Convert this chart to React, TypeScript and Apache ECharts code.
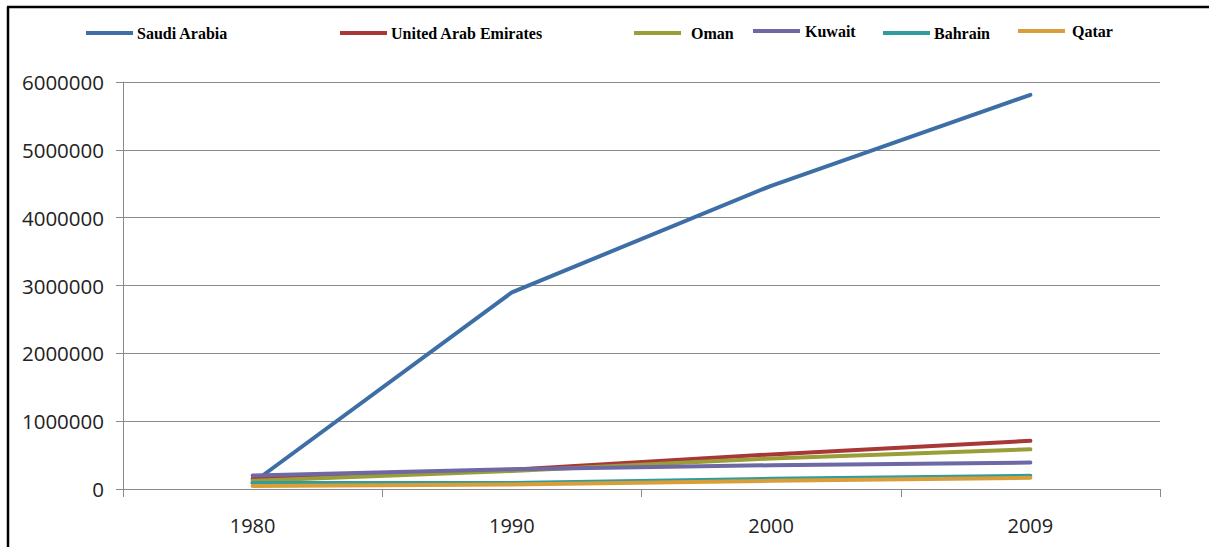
import React, { useEffect, useRef } from "react";
import * as echarts from "echarts";

// Years on the category axis
const years = ["1980", "1990", "2000", "2009"];

// Series values per country
const saudiArabia = [90000, 2900000, 4470000, 5810000];
const uae = [150000, 285000, 510000, 710000];
const oman = [120000, 265000, 450000, 585000];
const kuwait = [200000, 290000, 350000, 390000];
const bahrain = [90000, 90000, 150000, 195000];
const qatar = [45000, 65000, 120000, 165000];

const seriesNames = ["Saudi Arabia", "United Arab Emirates", "Oman", "Kuwait", "Bahrain", "Qatar"];
const seriesValues = [saudiArabia, uae, oman, kuwait, bahrain, qatar];
const seriesColors = ["#3D6FA6", "#A83838", "#9A9E38", "#6E68A4", "#2F9C9E", "#D99E3A"];

// Legend entries are placed individually along the top
const legendLeft = [86, 340, 634, 753, 883, 1018];
const legendTop = [25, 25, 25, 23, 25, 23];
const legendTextGap = [4, 4, 10, 5, 4, 7];

export default function App() {
  const ref = useRef<HTMLDivElement>(null);

  useEffect(() => {
    if (!ref.current) return;
    const chart = echarts.init(ref.current, null, { renderer: "svg" });

    const legends = seriesNames.map((name, i) => ({
      show: true,
      data: [name],
      left: legendLeft[i],
      top: legendTop[i],
      icon: "rect",
      itemWidth: 47,
      itemHeight: 4,
      itemGap: 0,
      padding: 0,
      selectedMode: false,
      textStyle: {
        fontFamily: "Liberation Serif",
        fontWeight: "bold",
        fontSize: 16,
        color: "#000",
        padding: [0, 0, 0, legendTextGap[i] - 5],
      },
    }));

    chart.setOption({
      animation: false,
      backgroundColor: "#fff",
      legend: legends,
      grid: { left: 123, right: 49, top: 82, bottom: 58, containLabel: false },
      xAxis: {
        type: "category",
        data: years,
        boundaryGap: true,
        axisLine: { show: true, lineStyle: { color: "#8a8a8a", width: 1 } },
        axisTick: { show: true, length: 8, alignWithLabel: false, lineStyle: { color: "#8a8a8a" } },
        axisLabel: {
          margin: 26,
          fontFamily: "Open Sans",
          fontSize: 20,
          color: "#222",
        },
        splitLine: { show: false },
      },
      yAxis: {
        type: "value",
        min: 0,
        max: 6000000,
        interval: 1000000,
        axisLine: { show: true, lineStyle: { color: "#8a8a8a", width: 1 } },
        axisTick: { show: true, length: 7, lineStyle: { color: "#8a8a8a" } },
        axisLabel: {
          margin: 19,
          fontFamily: "Open Sans",
          fontSize: 20.5,
          color: "#222",
          formatter: (v: number) => String(v),
        },
        splitLine: { show: true, lineStyle: { color: "#8a8a8a", width: 1 } },
      },
      series: seriesNames.map((name, i) => ({
        name,
        type: "line",
        data: seriesValues[i],
        symbol: "none",
        lineStyle: { color: seriesColors[i], width: 4, cap: "round", join: "round" },
        itemStyle: { color: seriesColors[i] },
      })),
      graphic: [
        {
          type: "line",
          shape: { x1: 8, y1: 7, x2: 8, y2: 547 },
          style: { stroke: "#000", lineWidth: 2.5 },
          silent: true,
        },
        {
          type: "line",
          shape: { x1: 7, y1: 7, x2: 1209, y2: 7 },
          style: { stroke: "#000", lineWidth: 2.5 },
          silent: true,
        },
      ],
    });

    return () => chart.dispose();
  }, []);

  return (
    <div
      ref={ref}
      style={{ position: "fixed", left: 0, top: 0, width: 1209, height: 547, background: "#fff" }}
    />
  );
}
